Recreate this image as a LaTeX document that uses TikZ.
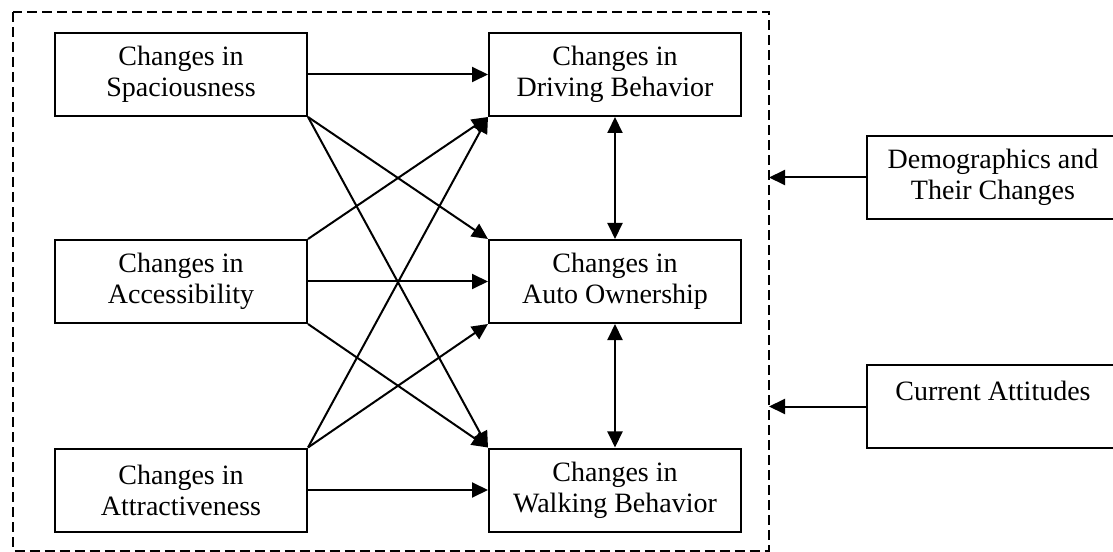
\documentclass[tikz,border=0pt]{standalone}
\usepackage{fontspec}
\setmainfont{Liberation Serif}
\usetikzlibrary{arrows.meta}

\begin{document}
\begin{tikzpicture}[x=0.4pt,y=-0.4pt,>={Triangle[length=6.4pt,width=6pt]},line width=0.8pt,
  box/.style={draw,minimum width=100.8pt,minimum height=33.2pt,inner sep=0pt,
    align=center,font=\fontsize{11.2}{12.4}\selectfont}]
  % Column and row positions (pixels, y downwards)
  \def\xl{181}
  \def\xr{615}
  \def\xo{993}
  \def\ya{74.5}
  \def\yb{281.5}
  \def\yc{490}

  \useasboundingbox (0,0) rectangle (1113,552);

  % Dashed frame round the model
  \draw[dash pattern=on 4pt off 2pt] (13,12) rectangle (769,550.5);
  \coordinate (fdem) at (769,177.5);
  \coordinate (fatt) at (769,406.5);

  % Changes in the built environment
  \node[box] (spac) at (\xl,\ya) {Changes in\\Spaciousness};
  \node[box] (acce) at (\xl,\yb) {Changes in\\Accessibility};
  \node[box] (attr) at (\xl,\yc) {Changes in\\Attractiveness};

  % Changes in travel behavior
  \node[box] (driv) at (\xr,\ya) {Changes in\\Driving Behavior};
  \node[box] (auto) at (\xr,\yb) {Changes in\\Auto Ownership};
  \node[box] (walk) at (\xr,\yc) {Changes in\\Walking Behavior};

  % Outside factors
  \node[box] (demo) at (\xo,177.5) {Demographics and\\Their Changes};
  \node[box] (atti) at (\xo,406.5) {Current Attitudes\\\mbox{}};

  % Effects of the built environment
  \draw[->] (spac) -- (driv);
  \draw[->] (spac.south east) -- (auto.north west);
  \draw[->] (spac.south east) -- (walk.north west);
  \draw[->] (acce.north east) -- (driv.south west);
  \draw[->] (acce) -- (auto);
  \draw[->] (acce.south east) -- (walk.north west);
  \draw[->] (attr.north east) -- (driv.south west);
  \draw[->] (attr.north east) -- (auto.south west);
  \draw[->] (attr) -- (walk);

  % Links between behaviors
  \draw[<->] (driv) -- (auto);
  \draw[<->] (auto) -- (walk);

  % Outside factors into the frame
  \draw[->] (demo) -- (fdem);
  \draw[->] (atti) -- (fatt);

\end{tikzpicture}
\end{document}
